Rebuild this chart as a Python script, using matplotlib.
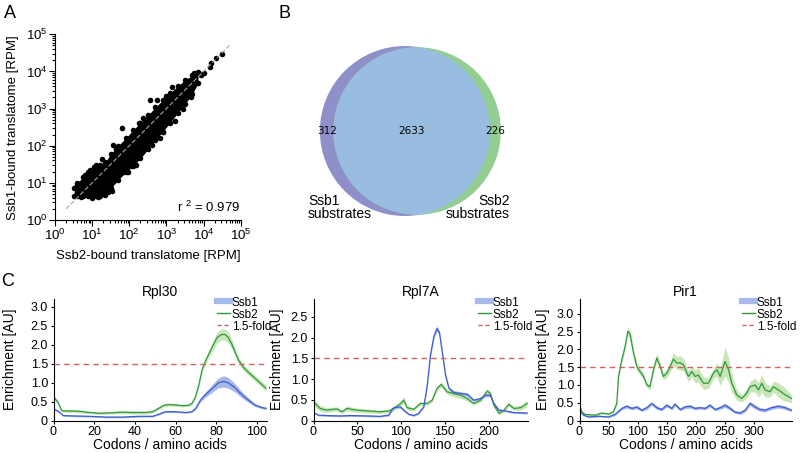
import numpy as np
import matplotlib
matplotlib.use('Agg')
import matplotlib.pyplot as plt
from matplotlib.patches import Circle
from matplotlib.lines import Line2D
from matplotlib.ticker import FuncFormatter, LogLocator, FixedLocator

plt.rcParams['font.family'] = ['Liberation Sans', 'DejaVu Sans']

# ---------------- A: Ssb1 vs Ssb2 bound translatome (log10 RPM) ----------------
# envelope of the dense cloud
cloud_x = [0.52, 0.60, 0.75, 0.90, 1.05, 1.20, 1.35, 1.50, 1.70, 1.90, 2.10,
           2.30, 2.50, 2.70, 2.90, 3.10, 3.30, 3.50, 3.70, 3.85]
cloud_hi = [0.85, 1.00, 1.15, 1.30, 1.42, 1.48, 1.55, 1.78, 2.00, 2.20, 2.42,
            2.62, 2.82, 3.03, 3.23, 3.42, 3.60, 3.77, 3.90, 3.98]
cloud_lo = [0.65, 0.65, 0.65, 0.65, 0.65, 0.65, 0.68, 0.85, 1.08, 1.28, 1.45,
            1.66, 1.90, 2.15, 2.38, 2.62, 2.88, 3.12, 3.40, 3.68]
# single genes outside / on the edge of the cloud
pts_x = [4.49, 4.33, 4.20, 4.16, 4.00, 3.93, 3.88, 3.80, 3.14, 2.56, 2.74, 2.96,
         2.92, 3.35, 3.60, 1.80, 1.57, 1.26, 1.35, 1.53, 1.62, 1.84, 0.95, 0.60,
         2.25, 2.45, 3.05, 2.05, 1.10, 0.70, 1.00, 0.58, 0.82, 1.15, 1.42, 1.97,
         2.18, 2.62, 2.83, 3.22, 3.45, 3.66, 1.65, 2.38, 3.00, 3.75]
pts_y = [4.47, 4.35, 4.22, 4.12, 3.97, 3.90, 3.93, 3.72, 3.59, 3.23, 3.23, 2.60,
         2.38, 3.20, 3.45, 2.48, 2.02, 1.64, 0.76, 0.79, 1.08, 1.30, 1.35, 0.95,
         2.62, 1.95, 2.80, 1.45, 1.48, 0.62, 0.60, 0.72, 1.22, 0.62, 0.75, 1.28,
         1.48, 2.02, 2.22, 2.66, 2.98, 3.30, 1.92, 2.75, 3.33, 3.95]
diag = [2, 5e4]
r_squared = 0.979

# ---------------- B: Venn counts ----------------
only_ssb1 = 312
shared = 2633
only_ssb2 = 226

# ---------------- C: enrichment profiles ----------------
rpl30_x2 = [0, 2.4, 4, 6.4, 9.7, 13, 17.8, 22.7, 27.6, 34, 39, 45.4, 48.7, 52, 54.4,
            56.8, 60, 63.3, 66.6, 68.2, 69.8, 71.5, 73.1, 74.7, 76.3, 78, 80.4, 82.8,
            84.5, 86, 87.7, 89.3, 91, 93.4, 95.8, 99, 102, 104.5]
rpl30_ssb2 = [0.63, 0.46, 0.26, 0.25, 0.25, 0.24, 0.21, 0.19, 0.20, 0.22, 0.21, 0.21,
              0.23, 0.33, 0.40, 0.42, 0.41, 0.39, 0.40, 0.46, 0.62, 0.94, 1.34, 1.56,
              1.74, 1.93, 2.18, 2.27, 2.26, 2.18, 2.01, 1.80, 1.59, 1.40, 1.27, 1.12,
              0.97, 0.85]
rpl30_ssb2_err = [0.04, 0.04, 0.04, 0.04, 0.04, 0.04, 0.03, 0.03, 0.03, 0.04, 0.04, 0.04,
                  0.04, 0.04, 0.04, 0.04, 0.04, 0.03, 0.03, 0.04, 0.05, 0.06, 0.07, 0.08,
                  0.10, 0.12, 0.14, 0.15, 0.15, 0.14, 0.12, 0.10, 0.09, 0.08, 0.08, 0.08,
                  0.08, 0.08]
rpl30_x1 = [0, 2.4, 4.8, 9.7, 17.8, 26, 34, 42, 48.7, 52, 55, 60, 65, 68, 69.8, 72.3,
            74.7, 78, 81, 83.7, 86, 89.3, 92.6, 95.8, 99, 102.4, 104.5]
rpl30_ssb1 = [0.31, 0.24, 0.13, 0.12, 0.11, 0.09, 0.09, 0.11, 0.11, 0.17, 0.23, 0.23,
              0.21, 0.23, 0.31, 0.54, 0.68, 0.84, 0.99, 1.03, 0.99, 0.86, 0.68, 0.54,
              0.41, 0.34, 0.32]
rpl30_ssb1_err = [0.03, 0.02, 0.02, 0.02, 0.02, 0.02, 0.02, 0.02, 0.02, 0.02, 0.02, 0.02,
                  0.02, 0.02, 0.03, 0.05, 0.07, 0.10, 0.13, 0.15, 0.14, 0.11, 0.08, 0.06,
                  0.04, 0.03, 0.03]

rpl7a_x1 = [0, 5.7, 15, 30.5, 42, 61, 76, 86, 91.6, 99, 103, 108.8, 114.5, 120, 126,
            130, 133.6, 137.4, 141, 144, 147, 150.8, 154.6, 160, 168, 175.6, 183, 190.8,
            196.6, 202, 206, 211.8, 219.5, 229, 244]
rpl7a_ssb1 = [0.19, 0.13, 0.12, 0.11, 0.12, 0.11, 0.10, 0.13, 0.31, 0.33, 0.25, 0.15,
              0.12, 0.17, 0.33, 0.86, 1.58, 2.02, 2.22, 2.10, 1.66, 1.10, 0.78, 0.68,
              0.65, 0.63, 0.49, 0.53, 0.61, 0.61, 0.41, 0.25, 0.23, 0.19, 0.18]
rpl7a_ssb1_err = [0.02, 0.02, 0.02, 0.02, 0.02, 0.02, 0.02, 0.02, 0.03, 0.03, 0.03, 0.02,
                  0.02, 0.02, 0.03, 0.05, 0.06, 0.06, 0.06, 0.06, 0.05, 0.05, 0.04, 0.04,
                  0.04, 0.04, 0.03, 0.03, 0.04, 0.04, 0.03, 0.03, 0.02, 0.02, 0.02]
rpl7a_x2 = [0, 7.6, 15, 26.7, 32.4, 38, 49.6, 61, 76, 86, 91.6, 99, 103, 107, 114.5,
            122, 130, 135.5, 141, 145.8, 152.7, 160, 168, 175.6, 183, 190.8, 198.5,
            202, 206, 211.8, 217.6, 223, 229, 236.6, 244]
rpl7a_ssb2 = [0.45, 0.29, 0.25, 0.28, 0.21, 0.29, 0.25, 0.23, 0.21, 0.23, 0.29, 0.40,
              0.49, 0.31, 0.27, 0.41, 0.41, 0.49, 0.77, 0.87, 0.69, 0.65, 0.61, 0.53,
              0.41, 0.49, 0.71, 0.65, 0.37, 0.17, 0.25, 0.39, 0.29, 0.31, 0.41]
rpl7a_ssb2_err = [0.08, 0.07, 0.06, 0.05, 0.04, 0.06, 0.05, 0.05, 0.04, 0.04, 0.05, 0.06,
                  0.08, 0.05, 0.04, 0.04, 0.04, 0.05, 0.06, 0.06, 0.06, 0.08, 0.08, 0.06,
                  0.04, 0.05, 0.05, 0.05, 0.04, 0.03, 0.04, 0.05, 0.05, 0.06, 0.08]

pir1_x2 = [0, 4, 9.7, 27, 38, 50, 58, 64, 67, 72.7, 78.4, 83, 87, 92.7, 98.5, 104, 110,
           115.6, 121, 127, 132.8, 138.5, 144, 150, 155.7, 161.4, 167, 172.9, 178.6,
           187, 192.9, 198.6, 204, 213, 221.5, 230, 235.8, 241.6, 250, 256, 261.6, 270,
           278.8, 287, 293, 301.7, 307.4, 313, 318.8, 327.4, 333, 341.7, 350, 359, 364]
pir1_ssb2 = [0.43, 0.24, 0.17, 0.15, 0.21, 0.18, 0.24, 0.48, 1.24, 1.71, 2.09, 2.51, 2.42,
             1.90, 1.52, 1.38, 1.24, 1.00, 0.95, 1.43, 1.76, 1.52, 1.24, 1.33, 1.52, 1.73,
             1.62, 1.62, 1.57, 1.24, 1.38, 1.24, 1.28, 1.05, 1.05, 1.33, 1.43, 1.24, 1.66,
             1.43, 1.05, 0.72, 0.62, 0.76, 0.95, 1.00, 0.86, 1.05, 0.86, 0.81, 0.95, 0.86,
             0.76, 0.67, 0.62]
pir1_ssb2_err = [0.05, 0.04, 0.03, 0.03, 0.03, 0.03, 0.04, 0.06, 0.08, 0.08, 0.10, 0.12,
                 0.12, 0.12, 0.12, 0.10, 0.08, 0.08, 0.08, 0.10, 0.12, 0.10, 0.10, 0.12,
                 0.15, 0.18, 0.18, 0.20, 0.18, 0.15, 0.15, 0.18, 0.20, 0.18, 0.15, 0.15,
                 0.18, 0.25, 0.40, 0.35, 0.25, 0.15, 0.10, 0.12, 0.15, 0.20, 0.20, 0.25,
                 0.20, 0.15, 0.15, 0.20, 0.20, 0.15, 0.12]
pir1_x1 = [0, 7, 15.5, 32.6, 50, 61, 72.7, 81, 90, 98.5, 107, 115.6, 124, 132.8, 141,
           150, 158.6, 164, 172.9, 181, 190, 198.6, 207, 215.8, 224, 233, 241.6, 250,
           258.7, 267, 276, 284.5, 293, 301.7, 310, 318.8, 330, 341.7, 353, 364]
pir1_ssb1 = [0.29, 0.15, 0.10, 0.12, 0.10, 0.17, 0.34, 0.40, 0.34, 0.38, 0.29, 0.36,
             0.48, 0.36, 0.31, 0.43, 0.34, 0.46, 0.31, 0.38, 0.40, 0.34, 0.36, 0.34,
             0.43, 0.31, 0.36, 0.43, 0.34, 0.24, 0.21, 0.29, 0.48, 0.38, 0.31, 0.29,
             0.36, 0.40, 0.36, 0.29]
pir1_ssb1_err = [0.03, 0.02, 0.02, 0.02, 0.02, 0.03, 0.04, 0.05, 0.04, 0.05, 0.04, 0.05,
                 0.05, 0.05, 0.04, 0.05, 0.04, 0.05, 0.04, 0.05, 0.05, 0.04, 0.04, 0.04,
                 0.05, 0.04, 0.05, 0.06, 0.05, 0.04, 0.04, 0.05, 0.06, 0.06, 0.05, 0.05,
                 0.05, 0.05, 0.05, 0.04]

threshold = 1.5

BLUE, BLUE_BAND = '#3b5fcf', '#a8b8ea'
GREEN, GREEN_BAND = '#2f9a3c', '#c9e6b9'
RED = '#d0625f'

W, H = 800, 453
fig = plt.figure(figsize=(W / 100, H / 100), dpi=100)


def px_axes(l, t, r, b):
    return fig.add_axes([l / W, 1 - b / H, (r - l) / W, (b - t) / H])


# ---- panel A ----
ax = px_axes(55, 34.3, 240.7, 220)
ax.set_xscale('log')
ax.set_yscale('log')
ax.fill_between(10 ** np.array(cloud_x), 10 ** np.array(cloud_lo), 10 ** np.array(cloud_hi),
                color='black', lw=0)
ax.scatter(10 ** np.array(cloud_x), 10 ** np.array(cloud_lo), s=16, c='k', lw=0)
ax.scatter(10 ** np.array(cloud_x), 10 ** np.array(cloud_hi), s=16, c='k', lw=0)
ax.scatter(10 ** np.array(pts_x), 10 ** np.array(pts_y), s=16, c='k', lw=0)
ax.plot(diag, diag, ls=(0, (4, 2)), color='#a8a8a8', lw=0.8)
ax.set_xlim(1, 1e5)
ax.set_ylim(1, 1e5)
for a in (ax.xaxis, ax.yaxis):
    a.set_major_locator(LogLocator(base=10, numticks=10))
    a.set_minor_locator(LogLocator(base=10, subs=np.arange(2, 10), numticks=10))
ax.spines[['top', 'right']].set_visible(False)
ax.tick_params(which='both', direction='out', labelsize=9.5, width=0.8)
ax.tick_params(which='major', length=4, pad=1.5)
ax.tick_params(which='minor', length=2)
ax.set_xlabel('Ssb2-bound translatome [RPM]', fontsize=9.5, labelpad=5)
ax.set_ylabel('Ssb1-bound translatome [RPM]', fontsize=9.5, labelpad=5)
ax.text(1.0, 0.07, 'r $\\mathregular{^{2}}$ = %.3f' % r_squared, transform=ax.transAxes,
        ha='right', va='center', fontsize=9.5)

# ---- panel B ----
A1 = only_ssb1 + shared
A2 = only_ssb2 + shared
r1 = np.sqrt(A1 / np.pi)
r2 = np.sqrt(A2 / np.pi)


def lens(d):
    c1 = np.clip((d * d + r1 * r1 - r2 * r2) / (2 * d * r1), -1, 1)
    c2 = np.clip((d * d + r2 * r2 - r1 * r1) / (2 * d * r2), -1, 1)
    k = (-d + r1 + r2) * (d + r1 - r2) * (d - r1 + r2) * (d + r1 + r2)
    return r1 ** 2 * np.arccos(c1) + r2 ** 2 * np.arccos(c2) - 0.5 * np.sqrt(max(k, 0))


lo_d, hi_d = abs(r1 - r2) + 1e-9, r1 + r2
for _ in range(80):
    mid = 0.5 * (lo_d + hi_d)
    if lens(mid) > shared:
        lo_d = mid
    else:
        hi_d = mid
d = 0.5 * (lo_d + hi_d)

s = 85.0 / r1  # pixels per unit
bx0, bx1, by0, by1 = 290, 530, 20, 240
cxp, cyp = 411, 131
axb = px_axes(bx0, by0, bx1, by1)
axb.set_xlim(-(cxp - bx0) / s, (bx1 - cxp) / s)
axb.set_ylim(-(by1 - cyp) / s, (cyp - by0) / s)
axb.axis('off')
c1x, c2x = -d / 2, d / 2
p1 = Circle((c1x, 0), r1, color='#8f90c9', lw=0)
p2 = Circle((c2x, 0), r2, color='#93cd92', lw=0)
p12 = Circle((c2x, 0), r2, color='#99bde1', lw=0)
axb.add_patch(p1)
axb.add_patch(p2)
axb.add_patch(p12)
p12.set_clip_path(p1)
axb.text(((c1x - r1) + (c2x - r2)) / 2, 0, str(only_ssb1), ha='center', va='center',
         fontsize=7.5, family='DejaVu Sans')
axb.text(((c2x - r2) + (c1x + r1)) / 2, 0, str(shared), ha='center', va='center',
         fontsize=7.5, family='DejaVu Sans')
axb.text(((c1x + r1) + (c2x + r2)) / 2, 0, str(only_ssb2), ha='center', va='center',
         fontsize=7.5, family='DejaVu Sans')
axb.text(c1x - 1.14 * r1, -0.9 * r1, 'Ssb1\nsubstrates', ha='left', va='center',
         fontsize=10, linespacing=0.95)
axb.text(c2x + 1.11 * r2, -0.9 * r1, 'Ssb2\nsubstrates', ha='right', va='center',
         fontsize=10, linespacing=0.95)

# ---- panel C ----
fmt = FuncFormatter(lambda v, p: '0' if v == 0 else '%.1f' % v)


def profile(box, title, xmax, ymax, yticks, xticks, s1, s2, ylabpad):
    a = px_axes(*box)
    x1, y1, e1 = (np.array(v) for v in s1)
    x2, y2, e2 = (np.array(v) for v in s2)
    a.fill_between(x2, y2 - e2, y2 + e2, color=GREEN_BAND, lw=0)
    a.fill_between(x1, y1 - e1, y1 + e1, color=BLUE_BAND, lw=0)
    a.plot(x2, y2, color=GREEN, lw=0.9)
    a.plot(x1, y1, color=BLUE, lw=0.9)
    a.axhline(threshold, color=RED, ls=(0, (4, 3)), lw=1)
    a.set_xlim(0, xmax)
    a.set_ylim(0, ymax)
    a.yaxis.set_major_locator(FixedLocator(yticks))
    a.yaxis.set_major_formatter(fmt)
    a.xaxis.set_major_locator(FixedLocator(xticks))
    a.spines[['top', 'right']].set_visible(False)
    a.tick_params(direction='out', length=2.5, width=0.8, labelsize=9, pad=1.5)
    a.set_title(title, fontsize=10, pad=1.5)
    a.set_xlabel('Codons / amino acids', fontsize=10, labelpad=0)
    a.set_ylabel('Enrichment [AU]', fontsize=10, labelpad=ylabpad)
    handles = [Line2D([], [], color=BLUE_BAND, lw=4.5),
               Line2D([], [], color=GREEN, lw=1),
               Line2D([], [], color=RED, lw=1, ls=(0, (3, 2)))]
    a.legend(handles, ['Ssb1', 'Ssb2', '1.5-fold'], loc='upper right',
             bbox_to_anchor=(1.02, 1.02), frameon=False, fontsize=8.5, borderpad=0,
             borderaxespad=0, handlelength=1.1, handletextpad=0.15, labelspacing=0.0)
    return a


profile((53.5, 299, 267, 420.5), 'Rpl30', 105, 3.2, [0, 0.5, 1, 1.5, 2, 2.5, 3],
        range(0, 101, 20), (rpl30_x1, rpl30_ssb1, rpl30_ssb1_err),
        (rpl30_x2, rpl30_ssb2, rpl30_ssb2_err), 10)
profile((313.5, 299, 528, 420.5), 'Rpl7A', 245, 2.93, [0, 0.5, 1, 1.5, 2, 2.5],
        range(0, 201, 50), (rpl7a_x1, rpl7a_ssb1, rpl7a_ssb1_err),
        (rpl7a_x2, rpl7a_ssb2, rpl7a_ssb2_err), 5)
profile((579.5, 299, 792, 420.5), 'Pir1', 365, 3.42, [0, 0.5, 1, 1.5, 2, 2.5, 3],
        range(0, 301, 50), (pir1_x1, pir1_ssb1, pir1_ssb1_err),
        (pir1_x2, pir1_ssb2, pir1_ssb2_err), 5)

for lab, x, y in [('A', 10, 14), ('B', 285, 14), ('C', 8, 281)]:
    fig.text(x / W, 1 - y / H, lab, ha='center', va='center', fontsize=13)

fig.savefig('out.png', dpi=100)
